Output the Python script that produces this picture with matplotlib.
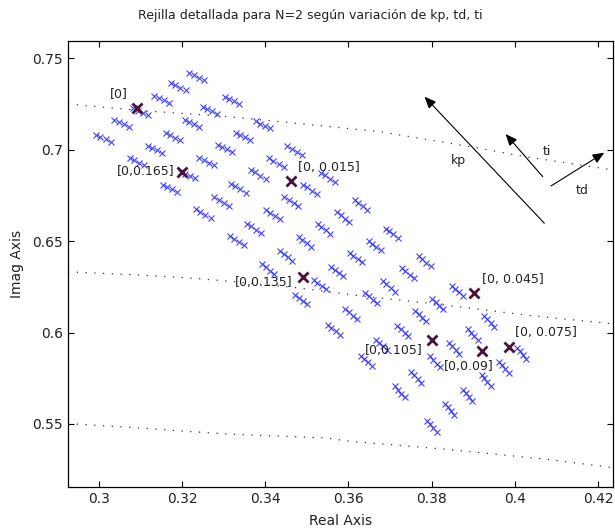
import numpy as np
import matplotlib.pyplot as plt
from matplotlib.ticker import FormatStrFormatter

# Pole clusters: one row per kp step, six td steps per row (cluster centres)
real_rows = [
    [0.3235, 0.3191, 0.3151, 0.3101, 0.3055, 0.3011],
    [0.3320, 0.3267, 0.3224, 0.3179, 0.3135, 0.3091],
    [0.3395, 0.3347, 0.3303, 0.3259, 0.3215, 0.3171],
    [0.3471, 0.3427, 0.3383, 0.3335, 0.3295, 0.3251],
    [0.3551, 0.3507, 0.3463, 0.3419, 0.3373, 0.3332],
    [0.3630, 0.3587, 0.3541, 0.3495, 0.3451, 0.3407],
    [0.3704, 0.3663, 0.3618, 0.3573, 0.3531, 0.3487],
    [0.3783, 0.3743, 0.3697, 0.3655, 0.3607, 0.3565],
    [0.3862, 0.3815, 0.3774, 0.3731, 0.3679, 0.3643],
    [0.3939, 0.3899, 0.3854, 0.3809, 0.3763, 0.3723],
    [0.4017, 0.3974, 0.3931, 0.3887, 0.3843, 0.3801],
]
imag_rows = [
    [0.7400, 0.7345, 0.7276, 0.7207, 0.7145, 0.7063],
    [0.7272, 0.7217, 0.7145, 0.7072, 0.7003, 0.6935],
    [0.7136, 0.7075, 0.7008, 0.6935, 0.6862, 0.6790],
    [0.6995, 0.6930, 0.6866, 0.6790, 0.6716, 0.6649],
    [0.6850, 0.6784, 0.6716, 0.6644, 0.6571, 0.6502],
    [0.6698, 0.6631, 0.6567, 0.6496, 0.6420, 0.6347],
    [0.6544, 0.6474, 0.6410, 0.6334, 0.6261, 0.6179],
    [0.6389, 0.6325, 0.6252, 0.6189, 0.6101, 0.6015],
    [0.6228, 0.6156, 0.6088, 0.6006, 0.5933, 0.5846],
    [0.6061, 0.5988, 0.5915, 0.5839, 0.5755, 0.5675],
    [0.5888, 0.5809, 0.5737, 0.5656, 0.5578, 0.5487],
]
# spread of each cluster (ti steps), per kp row
spread_re = [0.0036, 0.0034, 0.0034, 0.0036, 0.0034, 0.0029, 0.0029, 0.0029, 0.0026, 0.0024, 0.0022]
spread_im = [-0.0038, -0.0038, -0.0038, -0.0049, -0.0049, -0.0055, -0.0049, -0.0055, -0.0055, -0.0060, -0.0060]
ti_frac = [-0.5, -0.2, 0.15, 0.5]

# highlighted design points
ref_re = [0.3092, 0.3200, 0.3461, 0.3490, 0.3902, 0.3801, 0.3921, 0.3987]
ref_im = [0.7228, 0.6880, 0.6831, 0.6303, 0.6219, 0.5961, 0.5901, 0.5921]
ref_labels = ['[0]', '[0,0.165]', '[0, 0.015]', '[0,0.135]',
              '[0, 0.045]', '[0,0.105]', '[0,0.09]', '[0, 0.075]']

# grid curves (dotted)
curve1_re = [0.2926, 0.3116, 0.3291, 0.3435, 0.3675, 0.3898, 0.4028, 0.4235]
curve1_im = [0.7250, 0.7212, 0.7185, 0.7154, 0.7099, 0.7015, 0.6961, 0.6890]
curve2_re = [0.2926, 0.3087, 0.3207, 0.3303, 0.3476, 0.3627, 0.3783, 0.3922, 0.4040, 0.4235]
curve2_im = [0.6332, 0.6316, 0.6300, 0.6283, 0.6245, 0.6201, 0.6163, 0.6125, 0.6092, 0.6048]
curve3_re = [0.2926, 0.3087, 0.3207, 0.3317, 0.3548, 0.3603, 0.3843, 0.4083, 0.4235]
curve3_im = [0.5502, 0.5480, 0.5460, 0.5444, 0.5423, 0.5405, 0.5360, 0.5305, 0.5261]

pts_re = []
pts_im = []
for r in range(len(real_rows)):
    for c in range(len(real_rows[r])):
        for f in ti_frac:
            pts_re.append(real_rows[r][c] + f * spread_re[r])
            pts_im.append(imag_rows[r][c] + f * spread_im[r])

fig = plt.figure(figsize=(6.15, 5.31), dpi=100)
ax = fig.add_axes([68/615, 1-487/531, (613-68)/615, (487-41)/531])

dots = dict(color='#333333', lw=0.9, ls=(0, (1, 6)))
ax.plot(curve1_re, curve1_im, **dots)
ax.plot(curve2_re, curve2_im, **dots)
ax.plot(curve3_re, curve3_im, **dots)

ax.plot(pts_re, pts_im, 'x', color='#2020ff', ms=4.2, mew=0.8, alpha=0.85)
ax.plot(ref_re, ref_im, 'x', color='#4a1238', ms=6.5, mew=2.0)

offsets = [(-27, 15, 'left'), (-7, 0, 'right'), (7, 13, 'left'), (-10, -5, 'right'),
           (8, 13, 'left'), (-9, -11, 'right'), (-38, -16, 'left'), (6, 14, 'left')]
for x, y, s, (dx, dy, ha) in zip(ref_re, ref_im, ref_labels, offsets):
    ax.annotate(s, (x, y), xytext=(dx, dy), textcoords='offset pixels',
                ha=ha, va='center', fontsize=9, color='#222222')

# direction arrows for kp, ti, td
head = dict(arrowstyle='-|>,head_length=0.7,head_width=0.3', color='k', lw=0.8,
            mutation_scale=10, shrinkA=0, shrinkB=0)
ax.annotate('', xy=(0.3783, 0.7290), xytext=(0.4071, 0.6598), arrowprops=head)
ax.annotate('', xy=(0.3978, 0.7086), xytext=(0.4067, 0.6853), arrowprops=head)
ax.annotate('', xy=(0.4215, 0.6984), xytext=(0.4087, 0.6802), arrowprops=head,
            annotation_clip=False)
ax.text(0.3865, 0.6939, 'kp', fontsize=9, ha='center', va='center', color='#222222')
ax.text(0.4077, 0.6988, 'ti', fontsize=9, ha='center', va='center', color='#222222')
ax.text(0.4163, 0.6775, 'td', fontsize=9, ha='center', va='center', color='#222222')

ax.set_xlim(0.2926, 0.4236)
ax.set_ylim(0.5155, 0.7595)
ax.set_xticks([0.3, 0.32, 0.34, 0.36, 0.38, 0.4, 0.42])
ax.set_yticks([0.55, 0.6, 0.65, 0.7, 0.75])
ax.xaxis.set_major_formatter(FormatStrFormatter('%g'))
ax.yaxis.set_major_formatter(FormatStrFormatter('%g'))
ax.tick_params(direction='in', top=True, right=True, length=4, labelsize=10,
               labelcolor='#222222')
for sp in ax.spines.values():
    sp.set_linewidth(0.9)

ax.set_xlabel('Real Axis', fontsize=10, color='#222222', labelpad=6)
ax.set_ylabel('Imag Axis', fontsize=10, color='#222222', labelpad=6)
fig.text(310/615, 1-15/531, 'Rejilla detallada para N=2 según variación de kp, td, ti',
         ha='center', va='center', fontsize=9, color='#222222')

fig.savefig('out.png', dpi=100)
